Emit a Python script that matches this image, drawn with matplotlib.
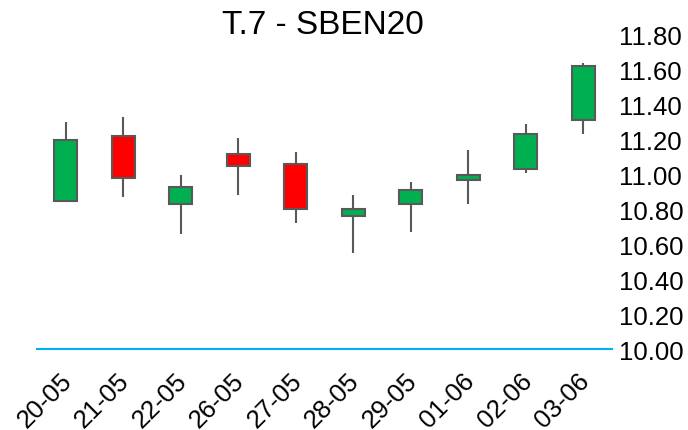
import matplotlib
matplotlib.use("Agg")
import matplotlib.pyplot as plt
import matplotlib.transforms as mtrans
from matplotlib.patches import Rectangle

dates = ["20-05", "21-05", "22-05", "26-05", "27-05", "28-05", "29-05", "01-06", "02-06", "03-06"]
opens = [10.85, 11.22, 10.83, 11.12, 11.06, 10.76, 10.83, 10.97, 11.03, 11.31]
highs = [11.30, 11.33, 11.00, 11.21, 11.13, 10.88, 10.96, 11.14, 11.29, 11.64]
lows = [10.85, 10.87, 10.66, 10.88, 10.72, 10.55, 10.67, 10.83, 11.01, 11.23]
closes = [11.20, 10.98, 10.93, 11.05, 10.80, 10.80, 10.91, 11.00, 11.23, 11.62]
yticks = [10.0, 10.2, 10.4, 10.6, 10.8, 11.0, 11.2, 11.4, 11.6, 11.8]
title = "T.7 - SBEN20"

plt.rcParams['font.family'] = ['Liberation Sans', 'DejaVu Sans']

fig = plt.figure(figsize=(6.88, 4.31), dpi=100)
ax = fig.add_axes([37/688, 1 - 350/431, (612 - 37)/688, (350 - 36)/431])

up_color = "#00B050"
down_color = "#FF0000"
edge = "#595959"
width = 0.4

for i, (o, h, l, c) in enumerate(zip(opens, highs, lows, closes)):
    lo_body, hi_body = min(o, c), max(o, c)
    ax.plot([i, i], [hi_body, h], color=edge, lw=1.5, zorder=1, solid_capstyle='butt')
    ax.plot([i, i], [l, lo_body], color=edge, lw=1.5, zorder=1, solid_capstyle='butt')
    col = up_color if c >= o else down_color
    ax.add_patch(Rectangle((i - width/2, lo_body), width, hi_body - lo_body,
                           facecolor=col, edgecolor=edge, lw=1.5, zorder=2))

ax.set_xlim(-0.5, len(dates) - 0.5)
ax.set_ylim(10.0, 11.8)
ax.set_yticks(yticks)
ax.set_yticklabels([f"{v:.2f}" for v in yticks], fontsize=18.5, color="#000000")
ax.yaxis.tick_right()
ax.tick_params(axis='y', length=0, pad=5)
ax.set_xticks(range(len(dates)))
ax.set_xticklabels(dates, rotation=45, ha='right', rotation_mode='anchor', fontsize=18.5)
ax.tick_params(axis='x', length=0, pad=10)
offset = mtrans.ScaledTranslation(-6/100, -5/100, fig.dpi_scale_trans)
for lab in ax.get_xticklabels():
    lab.set_transform(lab.get_transform() + offset)

for s in ['top', 'left', 'right']:
    ax.spines[s].set_visible(False)
ax.spines['bottom'].set_color("#00B0F0")
ax.spines['bottom'].set_linewidth(1.5)

fig.text(323/688, 1 - 25/431, title, ha='center', va='center', fontsize=24)

fig.savefig("out.png", dpi=100, facecolor="white")
